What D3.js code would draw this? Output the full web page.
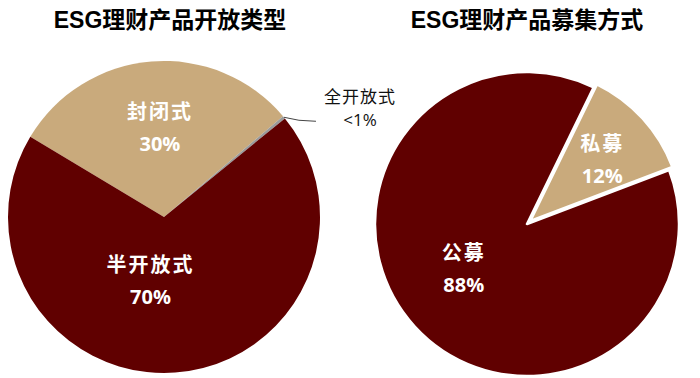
<!DOCTYPE html>
<html>
<head>
<meta charset="utf-8">
<script src="https://cdn.jsdelivr.net/npm/d3@7"></script>
<style>
  body { margin: 0; background: #fff; }
  svg { display: block; }
</style>
</head>
<body>
<script>
// data
const openTypes = ["封闭式", "全开放式", "半开放式"];
const openValues = [30.2, 0.3, 69.5];
const openLabels = ["30%", "<1%", "70%"];

const raiseTypes = ["私募", "公募"];
const raiseValues = [12, 88];
const raiseLabels = ["12%", "88%"];

const titles = ["ESG理财产品开放类型", "ESG理财产品募集方式"];

const W = 700, H = 378;
const maroon = "#600000", tan = "#c9aa7c", grey = "#9a9a9a";
const rad = Math.PI / 180;

const svg = d3.select("body").append("svg")
    .attr("width", W)
    .attr("height", H);

// titles
svg.selectAll(".title")
    .data(titles)
    .enter().append("text")
    .attr("class", "title")
    .attr("x", function(d, i) { return i === 0 ? 170 : 527; })
    .attr("y", 28)
    .attr("text-anchor", "middle")
    .style("font-family", "'Liberation Sans', 'Noto Sans CJK SC', sans-serif")
    .style("font-weight", "bold")
    .style("font-size", "23px")
    .style("fill", "#000")
    .text(function(d) { return d; });

function labelPos(cx, cy, angle, r) {
    return [cx + Math.sin(angle) * r, cy - Math.cos(angle) * r];
}

function sliceLabel(g, x, y, name, pct, color) {
    g.append("text")
        .attr("x", x).attr("y", y - 9)
        .attr("text-anchor", "middle")
        .style("font-family", "'Noto Sans CJK SC', sans-serif")
        .style("font-weight", "bold")
        .style("font-size", "20px")
        .style("letter-spacing", "2px")
        .style("fill", color)
        .text(name);
    g.append("text")
        .attr("x", x).attr("y", y + 23)
        .attr("text-anchor", "middle")
        .style("font-family", "'Open Sans', sans-serif")
        .style("font-weight", "bold")
        .style("font-size", "20px")
        .style("fill", color)
        .text(pct);
}

// ---- left pie: 开放类型
var lcx = 164, lcy = 217, lr = 156;
var pieL = d3.pie().sort(null)
    .startAngle(-59 * rad)
    .endAngle(301 * rad);
var arcL = d3.arc().innerRadius(0).outerRadius(lr);
var leftColors = d3.scaleOrdinal().domain(openTypes).range([tan, grey, maroon]);

var gL = svg.append("g").attr("transform", "translate(" + lcx + "," + lcy + ")");
var slicesL = pieL(openValues);

gL.selectAll("path")
    .data(slicesL)
    .enter().append("path")
    .attr("d", arcL)
    .attr("fill", function(d, i) { return leftColors(openTypes[i]); });

// label radius / angle tweak per slice (Excel best fit look)
var leftLabelR = [0.57, 0, 0.42];
var leftLabelShift = [2, 0, 16];
var labelsL = svg.append("g");
slicesL.forEach(function(s, i) {
    if (i === 1) return;
    var mid = (s.startAngle + s.endAngle) / 2 + leftLabelShift[i] * rad;
    var p = labelPos(lcx, lcy, mid, lr * leftLabelR[i]);
    sliceLabel(labelsL, p[0], p[1], openTypes[i], openLabels[i], "#fff");
});

// leader for the tiny slice
var tiny = slicesL[1];
var tinyMid = (tiny.startAngle + tiny.endAngle) / 2;
var edge = labelPos(lcx, lcy, tinyMid, lr);
svg.append("path")
    .attr("d", "M" + edge[0] + "," + edge[1] +
        " Q" + (edge[0] + 14) + "," + (edge[1] + 4) + " " + (edge[0] + 32) + "," + (edge[1] + 4))
    .attr("fill", "none")
    .attr("stroke", "#444")
    .attr("stroke-width", 1);
svg.append("text")
    .attr("x", edge[0] + 76).attr("y", edge[1] - 14)
    .attr("text-anchor", "middle")
    .style("font-family", "'Noto Sans CJK SC', sans-serif")
    .style("font-size", "17px")
    .style("letter-spacing", "1px")
    .style("fill", "#111")
    .text(openTypes[1]);
svg.append("text")
    .attr("x", edge[0] + 76).attr("y", edge[1] + 9)
    .attr("text-anchor", "middle")
    .style("font-family", "'Open Sans', sans-serif")
    .style("font-size", "17px")
    .style("fill", "#111")
    .text(openLabels[1]);

// ---- right pie: 募集方式
var rcx = 527, rcy = 224, rr = 152;
var pieR = d3.pie().sort(null)
    .startAngle(26 * rad)
    .endAngle(386 * rad);
var arcR = d3.arc().innerRadius(0).outerRadius(rr);
var rightColors = d3.scaleOrdinal().domain(raiseTypes).range([tan, maroon]);
var slicesR = pieR(raiseValues);
var explode = [4.5, 0];

var gR = svg.append("g").attr("transform", "translate(" + rcx + "," + rcy + ")");
gR.selectAll("path")
    .data(slicesR)
    .enter().append("path")
    .attr("d", arcR)
    .attr("transform", function(d, i) {
        var mid = (d.startAngle + d.endAngle) / 2;
        return "translate(" + Math.sin(mid) * explode[i] + "," + (-Math.cos(mid) * explode[i]) + ")";
    })
    .attr("fill", function(d, i) { return rightColors(raiseTypes[i]); })
    .attr("stroke", "#fff")
    .attr("stroke-width", 2.5)
    .attr("stroke-linejoin", "round");

var rightLabelR = [0.65, 0.51];
var rightLabelShift = [2, 7];
var labelsR = svg.append("g");
slicesR.forEach(function(s, i) {
    var mid = (s.startAngle + s.endAngle) / 2 + rightLabelShift[i] * rad;
    var p = labelPos(rcx, rcy, mid, rr * rightLabelR[i]);
    sliceLabel(labelsR, p[0], p[1], raiseTypes[i], raiseLabels[i], "#fff");
});
</script>
</body>
</html>
